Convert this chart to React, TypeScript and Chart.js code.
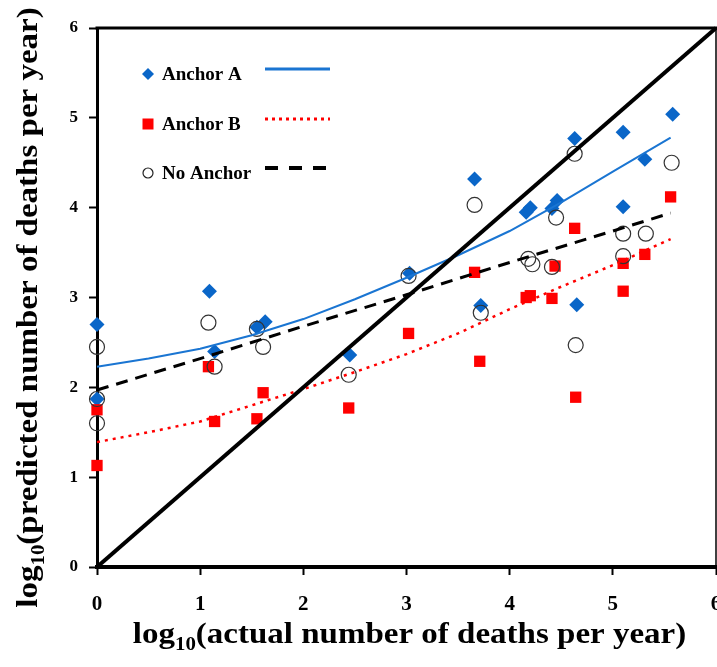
import React, { useEffect, useRef } from 'react';
import { Chart, registerables } from 'chart.js';

Chart.register(...registerables);

// ---------- data ----------
const anchorAX = [0, 0, 1.09, 1.14, 1.55, 1.63, 2.45, 3.03, 3.66, 3.72, 4.16, 4.2, 4.41, 4.46, 4.63, 4.65, 5.1, 5.1, 5.31, 5.58];
const anchorAY = [2.70, 1.87, 3.07, 2.40, 2.67, 2.73, 2.36, 3.27, 4.32, 2.91, 3.95, 4.00, 3.99, 4.08, 4.77, 2.92, 4.84, 4.01, 4.54, 5.04];

const anchorBX = [0, 0, 1.08, 1.14, 1.55, 1.61, 2.44, 3.02, 3.66, 3.71, 4.16, 4.2, 4.41, 4.44, 4.63, 4.64, 5.1, 5.1, 5.31, 5.56];
const anchorBY = [1.75, 1.13, 2.23, 1.62, 1.65, 1.94, 1.77, 2.60, 3.28, 2.29, 3.00, 3.02, 2.99, 3.35, 3.77, 1.89, 3.38, 3.07, 3.48, 4.12];

const noAnchorX = [0, 0, 0, 1.08, 1.14, 1.55, 1.61, 2.44, 3.02, 3.66, 3.72, 4.18, 4.22, 4.41, 4.45, 4.63, 4.64, 5.1, 5.1, 5.32, 5.57];
const noAnchorY = [2.45, 1.87, 1.60, 2.72, 2.23, 2.65, 2.45, 2.14, 3.24, 4.03, 2.83, 3.43, 3.37, 3.34, 3.89, 4.60, 2.47, 3.71, 3.46, 3.71, 4.50];

// trend lines
const trendAX = [0, 0.5, 1, 1.5, 2, 2.5, 3, 3.5, 4, 4.5, 5, 5.56];
const trendAY = [2.23, 2.32, 2.43, 2.58, 2.76, 2.98, 3.22, 3.47, 3.74, 4.06, 4.40, 4.78];

const trendBX = [0, 0.5, 1, 1.5, 2, 2.5, 3, 3.5, 4, 4.5, 5, 5.56];
const trendBY = [1.39, 1.50, 1.62, 1.80, 1.98, 2.17, 2.37, 2.60, 2.87, 3.12, 3.36, 3.65];

const trendNX = [0, 1, 2, 3, 4, 5, 5.56];
const trendNY = [1.97, 2.32, 2.68, 3.03, 3.39, 3.74, 3.94];

const identityX = [0, 6];
const identityY = [0, 6];

const xTicks = [0, 1, 2, 3, 4, 5, 6];
const yTicks = [0, 1, 2, 3, 4, 5, 6];

const legendLabels = ['Anchor A', 'Anchor B', 'No Anchor'];

const xTitleParts = ['log', '10', '(actual number of deaths per year)'];
const yTitleParts = ['log', '10', '(predicted number of deaths per year)'];

// ---------- styles ----------
const SERIF = "'Liberation Serif', 'Times New Roman', serif";
const BLUE = '#0a66c8';
const BLUE_LINE = '#1a75d2';
const RED = '#ff0000';

const zip = (xs: number[], ys: number[]) => xs.map((x, i) => ({ x, y: ys[i] }));

function drawTitle(ctx: CanvasRenderingContext2D, parts: string[]) {
  const mainFont = `bold 30px ${SERIF}`;
  const subFont = `bold 19px ${SERIF}`;
  ctx.font = mainFont;
  const w1 = ctx.measureText(parts[0]).width;
  const w3 = ctx.measureText(parts[2]).width;
  ctx.font = subFont;
  const w2 = ctx.measureText(parts[1]).width;
  const total = w1 + w2 + w3;
  let x = -total / 2;
  ctx.textBaseline = 'alphabetic';
  ctx.textAlign = 'left';
  ctx.fillStyle = '#000';
  ctx.font = mainFont;
  ctx.fillText(parts[0], x, 0);
  x += w1;
  ctx.font = subFont;
  ctx.fillText(parts[1], x, 7);
  x += w2;
  ctx.font = mainFont;
  ctx.fillText(parts[2], x, 0);
}

const decorPlugin = {
  id: 'decor',
  afterLayout(chart: any) {
    // let the plot frame run to the right edge of the canvas (last tick label is clipped, as in the original)
    const a = chart.chartArea;
    const xs = chart.scales.x;
    const target = chart.width - 1;
    a.right = target;
    a.width = a.right - a.left;
    xs.right = target;
    xs.width = xs.right - xs.left;
    xs.configure();
  },
  beforeDatasetsDraw(chart: any) {
    const { ctx, chartArea: a } = chart;
    ctx.save();
    ctx.strokeStyle = '#000';
    ctx.lineWidth = 3;
    ctx.beginPath();
    ctx.moveTo(a.left - 1.5, a.top);
    ctx.lineTo(a.right + 1, a.top);
    ctx.stroke();
    ctx.lineWidth = 1.5;
    ctx.beginPath();
    ctx.moveTo(a.right, a.top);
    ctx.lineTo(a.right, a.bottom);
    ctx.stroke();
    ctx.restore();
  },
  afterDraw(chart: any) {
    const { ctx, chartArea: a } = chart;
    // axis titles
    ctx.save();
    ctx.translate((a.left + a.right) / 2 + 3, 643);
    ctx.scale(1.1, 1);
    drawTitle(ctx, xTitleParts);
    ctx.restore();

    ctx.save();
    ctx.translate(37, (a.top + a.bottom) / 2 + 10);
    ctx.rotate(-Math.PI / 2);
    ctx.scale(1.1, 1);
    drawTitle(ctx, yTitleParts);
    ctx.restore();

    // legend
    const rowsY = [a.top + 46, a.top + 96, a.top + 145];
    const mx = a.left + 51;
    const tx = a.left + 65;
    const lx0 = a.left + 168;
    const lx1 = a.left + 233;
    ctx.save();
    ctx.font = `bold 19px ${SERIF}`;
    ctx.textBaseline = 'middle';
    ctx.textAlign = 'left';
    legendLabels.forEach((label, i) => {
      const y = rowsY[i];
      ctx.fillStyle = '#000';
      ctx.fillText(label, tx, y + 1);
      // marker
      ctx.beginPath();
      if (i === 0) {
        ctx.fillStyle = BLUE;
        ctx.moveTo(mx - 6, y);
        ctx.lineTo(mx, y - 6);
        ctx.lineTo(mx + 6, y);
        ctx.lineTo(mx, y + 6);
        ctx.closePath();
        ctx.fill();
      } else if (i === 1) {
        ctx.fillStyle = RED;
        ctx.fillRect(mx - 5.5, y - 5.5, 11, 11);
      } else {
        ctx.strokeStyle = '#222';
        ctx.lineWidth = 1.2;
        ctx.arc(mx, y, 5, 0, Math.PI * 2);
        ctx.stroke();
      }
      // line sample
      ctx.beginPath();
      const ly = y - 5;
      if (i === 0) {
        ctx.strokeStyle = BLUE_LINE;
        ctx.lineWidth = 3;
        ctx.setLineDash([]);
      } else if (i === 1) {
        ctx.strokeStyle = RED;
        ctx.lineWidth = 3;
        ctx.setLineDash([3, 4]);
      } else {
        ctx.strokeStyle = '#000';
        ctx.lineWidth = 4;
        ctx.setLineDash([13, 11]);
      }
      ctx.moveTo(lx0, ly);
      ctx.lineTo(lx1, ly);
      ctx.stroke();
      ctx.setLineDash([]);
    });
    ctx.restore();
  },
};

export default function App() {
  const ref = useRef<HTMLCanvasElement | null>(null);

  useEffect(() => {
    if (!ref.current) return;
    const chart = new Chart(ref.current, {
      type: 'scatter',
      data: {
        datasets: [
          {
            label: 'identity',
            data: zip(identityX, identityY),
            showLine: true,
            borderColor: '#000',
            borderWidth: 4,
            pointRadius: 0,
            clip: false,
            order: 0,
          },
          {
            label: 'Anchor A fit',
            data: zip(trendAX, trendAY),
            showLine: true,
            borderColor: BLUE_LINE,
            borderWidth: 2,
            pointRadius: 0,
            clip: false,
            order: 1,
          },
          {
            label: 'Anchor B fit',
            data: zip(trendBX, trendBY),
            showLine: true,
            borderColor: RED,
            borderWidth: 2.5,
            borderDash: [3, 5],
            pointRadius: 0,
            clip: false,
            order: 1,
          },
          {
            label: 'No Anchor fit',
            data: zip(trendNX, trendNY),
            showLine: true,
            borderColor: '#000',
            borderWidth: 3,
            borderDash: [12, 8],
            pointRadius: 0,
            clip: false,
            order: 1,
          },
          {
            label: 'No Anchor',
            data: zip(noAnchorX, noAnchorY),
            pointStyle: 'circle',
            pointRadius: 7.5,
            backgroundColor: 'rgba(0,0,0,0)',
            borderColor: '#333',
            borderWidth: 1.2,
            clip: false,
            order: 2,
          },
          {
            label: 'Anchor B',
            data: zip(anchorBX, anchorBY),
            pointStyle: 'rect',
            pointRadius: 8,
            backgroundColor: RED,
            borderWidth: 0,
            clip: false,
            order: 3,
          },
          {
            label: 'Anchor A',
            data: zip(anchorAX, anchorAY),
            pointStyle: 'rectRot',
            pointRadius: 7.5,
            backgroundColor: BLUE,
            borderWidth: 0,
            clip: false,
            order: 4,
          },
        ] as any,
      },
      options: {
        animation: false,
        responsive: false,
        maintainAspectRatio: false,
        layout: { padding: { top: 28, right: 1, left: 0, bottom: 0 } },
        plugins: { legend: { display: false }, tooltip: { enabled: false } },
        scales: {
          x: {
            type: 'linear',
            min: xTicks[0],
            max: xTicks[xTicks.length - 1],
            afterBuildTicks: (s: any) => {
              s.ticks = xTicks.map((v) => ({ value: v }));
            },
            ticks: {
              stepSize: 1,
              color: '#000',
              font: { family: SERIF, size: 21, weight: 'bold' },
              padding: 17,
              maxRotation: 0,
            },
            grid: {
              drawOnChartArea: false,
              drawTicks: true,
              tickLength: 8,
              tickWidth: 2,
              tickColor: '#000',
              color: '#000',
            },
            border: { display: true, color: '#000', width: 4 },
            afterFit: (s: any) => {
              s.height = 100;
              s.paddingLeft = 0;
              s.paddingRight = 0;
            },
          },
          y: {
            type: 'linear',
            min: yTicks[0],
            max: yTicks[yTicks.length - 1],
            afterBuildTicks: (s: any) => {
              s.ticks = yTicks.map((v) => ({ value: v }));
            },
            ticks: {
              stepSize: 1,
              color: '#000',
              font: { family: SERIF, size: 17, weight: 'bold' },
              padding: 11,
            },
            grid: {
              drawOnChartArea: false,
              drawTicks: true,
              tickLength: 8,
              tickWidth: 2,
              tickColor: '#000',
              color: '#000',
            },
            border: { display: true, color: '#000', width: 3 },
            afterFit: (s: any) => {
              s.width = 97;
              s.paddingTop = 0;
              s.paddingBottom = 0;
            },
          },
        },
      } as any,
      plugins: [decorPlugin],
    });
    return () => chart.destroy();
  }, []);

  return (
    <div style={{ position: 'absolute', left: 0, top: 0, width: 717, height: 667, background: '#fff' }}>
      <canvas ref={ref} width={717} height={667} style={{ display: 'block', width: 717, height: 667 }} />
    </div>
  );
}
